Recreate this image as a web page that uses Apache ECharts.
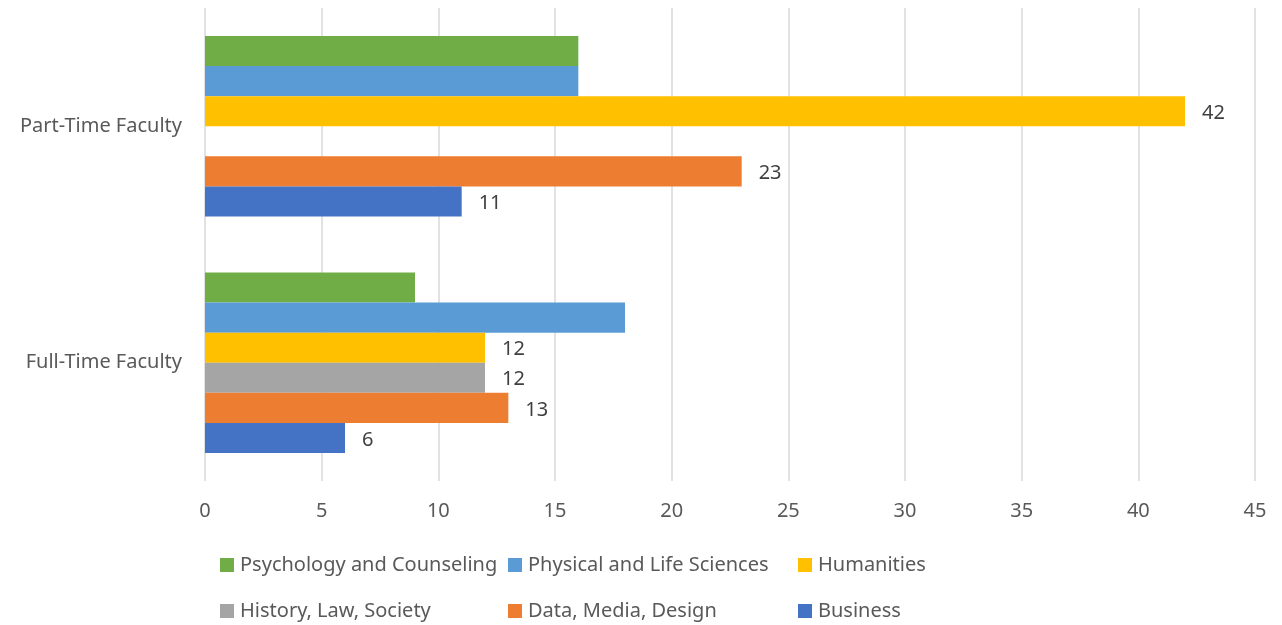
<!DOCTYPE html>
<html>
<head>
<meta charset="utf-8">
<script src="https://cdn.jsdelivr.net/npm/echarts@6/dist/echarts.min.js"></script>
<style>
  html, body { margin: 0; padding: 0; background: #fff; }
  #chart { width: 1282px; height: 625px; }
</style>
</head>
<body>
<div id="chart"></div>
<script>
  // categories, bottom to top
  const categories = ['Full-Time Faculty', 'Part-Time Faculty']

  // series, top bar of each group first (echarts stacks them downwards on a category y axis)
  const seriesNames = ['Psychology and Counseling', 'Physical and Life Sciences', 'Humanities', 'History, Law, Society', 'Data, Media, Design', 'Business']
  const psychology = [9, 16]
  const physical = [18, 16]
  const humanities = [12, 42]
  const historyLaw = [12, null]
  const dataMedia = [13, 23]
  const business = [6, 11]
  const seriesValues = [psychology, physical, humanities, historyLaw, dataMedia, business]
  const showLabels = [false, false, true, true, true, true]
  const colors = ['#70AD47', '#5B9BD5', '#FFC000', '#A5A5A5', '#ED7D31', '#4472C4']

  // legend layout: [name, left, top]
  const legendOrder = [
    ['Psychology and Counseling', 220, 555],
    ['Physical and Life Sciences', 508, 555],
    ['Humanities', 798, 555],
    ['History, Law, Society', 220, 601],
    ['Data, Media, Design', 508, 601],
    ['Business', 798, 601]
  ]

  const font = 'Noto Sans'
  const chart = echarts.init(document.getElementById('chart'))

  const option = {
    animation: false,
    color: colors,
    textStyle: { fontFamily: font },
    grid: { left: 205, right: 27, top: 8, bottom: 144, containLabel: false },
    legend: legendOrder.map(([name, left, top]) => ({
      data: [name],
      left: left,
      top: top,
      itemWidth: 14,
      itemHeight: 14,
      itemGap: 0,
      icon: 'rect',
      padding: 0,
      selectedMode: false,
      textStyle: { fontSize: 20, color: '#595959', fontFamily: font, padding: [0, 0, 0, 1] }
    })),
    xAxis: {
      type: 'value',
      min: 0,
      max: 45,
      interval: 5,
      axisLine: { show: false },
      axisTick: { show: false },
      axisLabel: { fontSize: 20, color: '#595959', margin: 20, fontFamily: font },
      splitLine: { lineStyle: { color: '#d9d9d9', width: 1.5 } }
    },
    yAxis: {
      type: 'category',
      data: categories,
      axisLine: { show: false },
      axisTick: { show: false },
      axisLabel: { fontSize: 20, color: '#595959', margin: 23, fontFamily: font }
    },
    series: seriesNames.map((name, i) => ({
      name: name,
      type: 'bar',
      data: seriesValues[i],
      barGap: '0%',
      barCategoryGap: '23.7%',
      itemStyle: { color: colors[i] },
      label: {
        show: showLabels[i],
        position: 'right',
        distance: 17,
        offset: [0, 2],
        fontSize: 20,
        color: '#404040',
        fontFamily: font
      }
    }))
  }

  chart.setOption(option)
</script>
</body>
</html>
